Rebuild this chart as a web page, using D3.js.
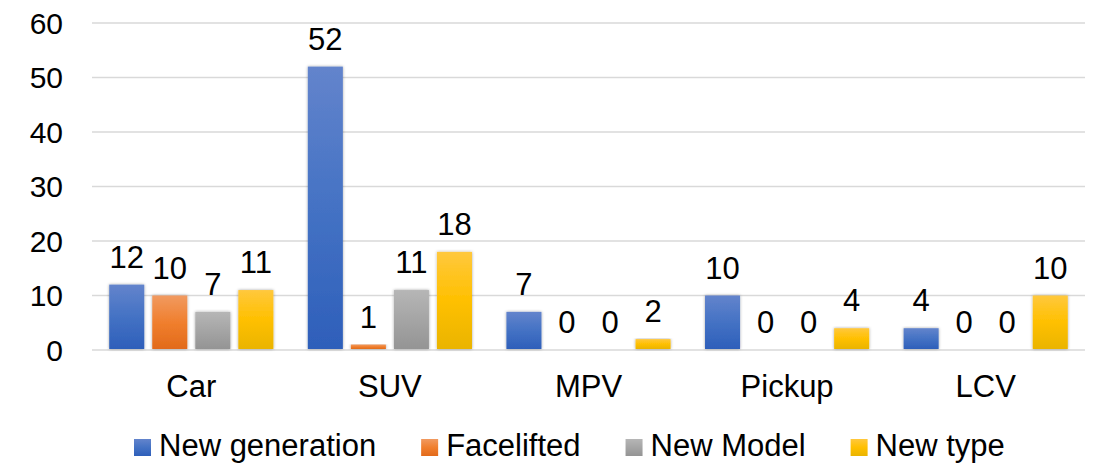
<!DOCTYPE html>
<html>
<head>
<meta charset="utf-8">
<script src="https://cdn.jsdelivr.net/npm/d3@7"></script>
<style>
  body { margin: 0; background: #fff; }
  text { font-family: Arial, "Liberation Sans", sans-serif; fill: #000; }
</style>
</head>
<body>
<svg id="chart" width="1099" height="465"></svg>
<script>
const categories = ['Car', 'SUV', 'MPV', 'Pickup', 'LCV']
const seriesNames = ['New generation', 'Facelifted', 'New Model', 'New type']
const newGeneration = [12, 52, 7, 10, 4]
const facelifted = [10, 1, 0, 0, 0]
const newModel = [7, 11, 0, 0, 0]
const newType = [11, 18, 2, 4, 10]
const yTicks = [0, 10, 20, 30, 40, 50, 60]

const seriesValues = [newGeneration, facelifted, newModel, newType]
const colors = [
  { top: '#6384cc', mid: '#4472c4', bottom: '#2e5fba' },
  { top: '#f19a60', mid: '#f07f2e', bottom: '#e26a1a' },
  { top: '#b6b6b6', mid: '#a5a5a5', bottom: '#949494' },
  { top: '#ffc83d', mid: '#ffc000', bottom: '#eab400' }
]

const margin = { top: 23, right: 14, bottom: 115, left: 92 }
const width = 1099
const height = 465

const svg = d3.select('#chart')
const defs = svg.append('defs')

// bar gradients
colors.forEach((c, i) => {
  defs.append('linearGradient')
    .attr('id', `grad-${i}`)
    .attr('x1', 0).attr('y1', 0).attr('x2', 0).attr('y2', 1)
    .selectAll('stop')
    .data([
      { offset: '0%', color: c.top },
      { offset: '50%', color: c.mid },
      { offset: '100%', color: c.bottom }
    ])
    .join('stop')
    .attr('offset', d => d.offset)
    .attr('stop-color', d => d.color)
})

// soft shadow
const shadow = defs.append('filter')
  .attr('id', 'shadow')
  .attr('x', '-30%').attr('y', '-10%').attr('width', '160%').attr('height', '130%')
shadow.append('feDropShadow')
  .attr('dx', 0).attr('dy', 0).attr('stdDeviation', 1.6)
  .attr('flood-color', '#000').attr('flood-opacity', 0.35)

const x0 = d3.scaleBand()
  .domain(categories)
  .range([margin.left, width - margin.right])

const x1 = d3.scaleBand()
  .domain(d3.range(seriesNames.length))
  .range([0, x0.bandwidth()])
  .paddingInner(0.186)
  .paddingOuter(0.4)

const y = d3.scaleLinear()
  .domain([0, 60])
  .range([height - margin.bottom, margin.top])

// grid lines
svg.append('g')
  .selectAll('line')
  .data(yTicks)
  .join('line')
  .attr('x1', margin.left)
  .attr('x2', width - margin.right)
  .attr('y1', d => y(d))
  .attr('y2', d => y(d))
  .attr('stroke', '#d9d9d9')
  .attr('stroke-width', 1.5)

// y axis labels
svg.append('g')
  .selectAll('text')
  .data(yTicks)
  .join('text')
  .attr('x', 63)
  .attr('y', d => y(d))
  .attr('dy', '0.35em')
  .attr('text-anchor', 'end')
  .attr('font-size', 30)
  .text(d => d)

// bars
const groups = svg.append('g')
  .selectAll('g')
  .data(categories)
  .join('g')
  .attr('transform', d => `translate(${x0(d)},0)`)

groups.selectAll('rect')
  .data((d, ci) => seriesValues.map((vals, si) => ({ si, value: vals[ci] })))
  .join('rect')
  .filter(d => d.value > 0)
  .attr('x', d => x1(d.si))
  .attr('y', d => y(d.value))
  .attr('width', x1.bandwidth())
  .attr('height', d => y(0) - 1 - y(d.value))
  .attr('fill', d => `url(#grad-${d.si})`)
  .attr('filter', 'url(#shadow)')

// value labels
groups.selectAll('text')
  .data((d, ci) => seriesValues.map((vals, si) => ({ si, value: vals[ci] })))
  .join('text')
  .attr('x', d => x1(d.si) + x1.bandwidth() / 2)
  .attr('y', d => y(d.value) - 17)
  .attr('text-anchor', 'middle')
  .attr('font-size', 31)
  .text(d => d.value)

// category labels
svg.append('g')
  .selectAll('text')
  .data(categories)
  .join('text')
  .attr('x', d => x0(d) + x0.bandwidth() / 2)
  .attr('y', 397)
  .attr('text-anchor', 'middle')
  .attr('font-size', 31)
  .text(d => d)

// legend
const legend = svg.append('g').attr('transform', 'translate(134,0)')
let lx = 0
seriesNames.forEach((name, i) => {
  const item = legend.append('g').attr('transform', `translate(${lx},0)`)
  item.append('rect')
    .attr('x', 0).attr('y', 439)
    .attr('width', 17).attr('height', 17)
    .attr('fill', `url(#grad-${i})`)
  const t = item.append('text')
    .attr('x', 25).attr('y', 456)
    .attr('font-size', 31)
    .text(name)
  lx += 25 + t.node().getComputedTextLength() + 45
})
</script>
</body>
</html>
